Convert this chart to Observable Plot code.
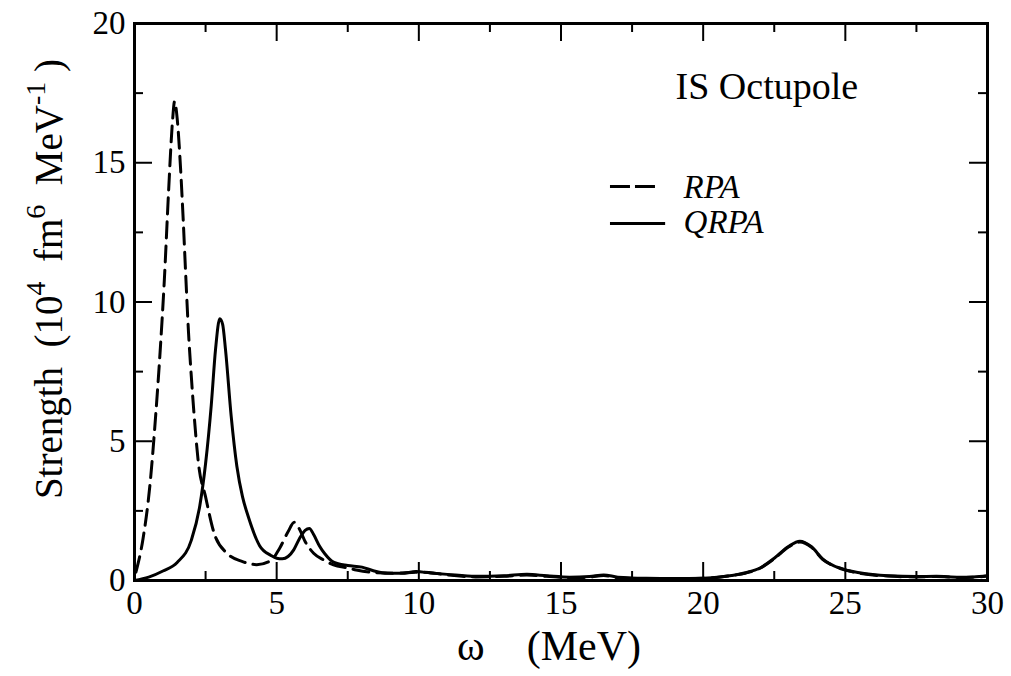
<!DOCTYPE html>
<html><head><meta charset="utf-8">
<script src="https://cdn.jsdelivr.net/npm/d3@7"></script>
<script src="https://cdn.jsdelivr.net/npm/@observablehq/plot@0.6"></script>
<style>body{margin:0;background:#fff} #chart svg, #chart svg text{font-family:"Liberation Serif",serif !important}</style>
</head><body><div id="chart"></div>
<script>
// ---- data ----
const rpaX  = [0.05,0.3,0.55,0.75,0.9,1.05,1.2,1.33,1.41,1.5,1.62,1.72,1.8,1.9,2.0,2.1,2.25,2.5,2.8,3.25,3.8,4.3,4.8,5.1,5.4,5.62,5.8,6.0,6.3,6.65,7.0,7.5,7.8,8.5,9.2,9.9,10.5,11,12,13,13.8,14.5,15.3,16,16.5,17,18,19,20,21,21.5,22,22.5,23,23.4,23.8,24.2,24.8,25.5,26.5,27.5,28.2,29,29.5,30];
const rpaY  = [0.3,1.5,3.5,6.0,8.2,10.8,14.0,16.4,17.2,16.6,14.8,12.8,11.0,8.9,7.3,5.9,4.2,3.0,1.7,0.98,0.68,0.57,0.72,1.15,1.75,2.09,1.85,1.4,0.98,0.74,0.56,0.45,0.38,0.28,0.26,0.3,0.27,0.2,0.13,0.15,0.2,0.15,0.1,0.12,0.18,0.1,0.07,0.06,0.08,0.18,0.27,0.44,0.78,1.2,1.38,1.2,0.76,0.45,0.26,0.16,0.13,0.14,0.11,0.12,0.16];
const qrpaX = [0,0.5,1.0,1.5,2.0,2.3,2.5,2.7,2.85,3.0,3.1,3.2,3.4,3.6,3.8,4.0,4.4,4.8,5.0,5.2,5.4,5.6,5.8,6.0,6.15,6.3,6.5,6.7,7.0,7.5,8.0,8.4,8.9,9.4,9.9,10.4,11,12,13,13.8,14.5,15.3,16,16.5,17,18,19,20,21,21.5,22,22.5,23,23.4,23.8,24.2,24.8,25.5,26.5,27.5,28.2,29,29.5,30];
const qrpaY = [0,0.12,0.34,0.65,1.45,2.7,4.2,6.3,8.3,9.4,9.2,8.3,5.9,4.1,3.0,2.3,1.25,0.9,0.8,0.78,0.86,1.1,1.5,1.8,1.87,1.65,1.25,0.95,0.66,0.54,0.48,0.35,0.26,0.26,0.32,0.27,0.22,0.15,0.17,0.22,0.17,0.12,0.14,0.2,0.12,0.08,0.07,0.08,0.18,0.28,0.45,0.8,1.22,1.41,1.22,0.78,0.44,0.28,0.17,0.14,0.15,0.12,0.13,0.17];
const xMajor = [0,5,10,15,20,25,30];
const xMinor = [2.5,7.5,12.5,17.5,22.5,27.5];
const yMajor = [0,5,10,15,20];
const yMinor = [2.5,7.5,12.5,17.5];
const seriesNames = ["RPA","QRPA"];
const title = "IS Octupole";
const xLabel = "ω\u00a0\u00a0\u00a0\u00a0(MeV)";
const yLabel = "Strength\u00a0\u00a0(10^4\u00a0 fm^6\u00a0 MeV^-1\u00a0)";

// ---- layout ----
const W = 1011, H = 676, mt = 23, mb = 96, ml = 134, mr = 24;
const ph = H - mt - mb, pw = W - ml - mr;
const majorLen = 18, minorLen = 9;
const FONT = "Liberation Serif";

const rpa = rpaX.map((x, i) => ({x, y: rpaY[i]}));
const qrpa = qrpaX.map((x, i) => ({x, y: qrpaY[i]}));
const tk = {stroke: "black", strokeOpacity: 1, strokeWidth: 2};

const plot = Plot.plot({
  width: W, height: H,
  marginTop: mt, marginBottom: mb, marginLeft: ml, marginRight: mr,
  style: {fontFamily: FONT, fontSize: "33px", background: "white", color: "black", overflow: "visible"},
  x: {domain: [0, 30], axis: null},
  y: {domain: [0, 20], axis: null},
  marks: [
    Plot.gridX(xMajor, {...tk, insetTop: ph - majorLen}),
    Plot.gridX(xMajor, {...tk, insetBottom: ph - majorLen}),
    Plot.gridX(xMinor, {...tk, insetTop: ph - minorLen}),
    Plot.gridX(xMinor, {...tk, insetBottom: ph - minorLen}),
    Plot.gridY(yMajor, {...tk, insetRight: pw - majorLen}),
    Plot.gridY(yMajor, {...tk, insetLeft: pw - majorLen}),
    Plot.gridY(yMinor, {...tk, insetRight: pw - minorLen}),
    Plot.gridY(yMinor, {...tk, insetLeft: pw - minorLen}),
    Plot.axisX(xMajor, {tickSize: 0, tickPadding: 10, fontSize: 33, fontFamily: FONT, label: null}),
    Plot.axisY(yMajor, {tickSize: 0, tickPadding: 9, fontSize: 33, fontFamily: FONT, label: null}),
    Plot.line(rpa, {x: "x", y: "y", stroke: "black", strokeWidth: 3, strokeDasharray: "16,8", curve: "monotone-x"}),
    Plot.line(qrpa, {x: "x", y: "y", stroke: "black", strokeWidth: 3, curve: "monotone-x"}),
    Plot.frame({stroke: "black", strokeWidth: 3}),
    Plot.text([title], {x: 19.03, y: 17.71, text: d => d, textAnchor: "start", lineAnchor: "middle", fontSize: 38, fontFamily: FONT}),
    Plot.ruleY([14.15], {x1: 16.74, x2: 18.33, stroke: "black", strokeWidth: 3, strokeDasharray: "20,5"}),
    Plot.ruleY([12.82], {x1: 16.74, x2: 18.68, stroke: "black", strokeWidth: 3}),
    Plot.text([seriesNames[0]], {x: 19.31, y: 14.1, text: d => d, textAnchor: "start", lineAnchor: "middle", fontSize: 33, fontStyle: "italic", fontFamily: FONT}),
    Plot.text([seriesNames[1]], {x: 19.31, y: 12.84, text: d => d, textAnchor: "start", lineAnchor: "middle", fontSize: 33, fontStyle: "italic", fontFamily: FONT}),
    Plot.text([xLabel], {frameAnchor: "bottom", text: d => d, dx: -12, dy: 66, textAnchor: "middle", lineAnchor: "middle", fontSize: 42, fontFamily: FONT}),
    Plot.text([yLabel], {frameAnchor: "left", text: d => d, rotate: -90, dx: -85, dy: -23, textAnchor: "middle", lineAnchor: "middle", fontSize: 39, fontFamily: FONT})
  ]
});
document.getElementById("chart").append(plot);

// superscripts in the y label
d3.select(plot).selectAll("text").filter(function() { return this.textContent === yLabel; })
  .each(function() {
    const t = d3.select(this);
    t.text(null);
    const parts = yLabel.split(/\^(-?\d+)/);
    parts.forEach((p, i) => {
      if (i % 2 === 0) t.append("tspan").text(p);
      else t.append("tspan").attr("baseline-shift", "17").attr("font-size", 28).text(p);
    });
  });
</script>
</body></html>
